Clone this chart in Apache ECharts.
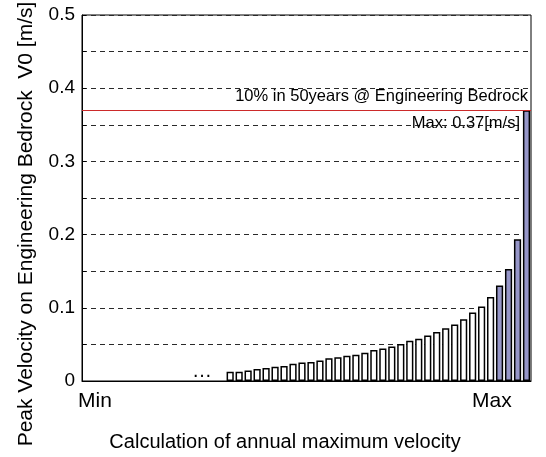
<!DOCTYPE html>
<html>
<head>
<meta charset="utf-8">
<script src="https://cdn.jsdelivr.net/npm/echarts@6/dist/echarts.min.js"></script>
<style>html,body{margin:0;padding:0;background:#fff;}#c{width:546px;height:457px;}</style>
</head>
<body>
<div id="c"></div>
<script>
// categories: calculation index (sorted from Min to Max)
const categories = Array.from({length: 50}, (_, i) => String(i + 1));
// annual maximum velocities (first 16 calculations not drawn, shown as "...")
const hiddenCount = 16;
const whiteValues = [0.0128, 0.0128, 0.0142, 0.0165, 0.0179, 0.0193, 0.0206, 0.0234, 0.0252, 0.0261,
                     0.0280, 0.0312, 0.0326, 0.0344, 0.0358, 0.0385, 0.0422, 0.0445, 0.0473, 0.0505,
                     0.0551, 0.0578, 0.0620, 0.0670, 0.0721, 0.0771, 0.0845, 0.0936, 0.1019, 0.1147];
const purpleValues = [0.1305, 0.1530, 0.1935, 0.37];
const maxLevel = 0.37;
const yTicks = [0, 0.1, 0.2, 0.3, 0.4, 0.5];
const xTickLabels = ['Min', 'Max'];
const lineLabelTop = '10% in 50years @ Engineering Bedrock';
const lineLabelBottom = 'Max: 0.37[m/s]';
const xTitle = 'Calculation of annual maximum velocity';
const yTitle = 'Peak Velocity on Engineering Bedrock  V0 [m/s]';

const FONT = '"Liberation Sans", Arial, sans-serif';
const data = [];
for (let i = 0; i < hiddenCount; i++) data.push(null);
whiteValues.forEach(v => data.push({value: v, itemStyle: {color: '#ffffff'}}));
purpleValues.forEach(v => data.push({value: v, itemStyle: {color: '#9696c8'}}));

const chart = echarts.init(document.getElementById('c'), null, {renderer: 'canvas'});
chart.setOption({
  animation: false,
  backgroundColor: '#fff',
  grid: {left: 82, right: 15, top: 15, bottom: 76, show: true, borderColor: '#000', borderWidth: 1, backgroundColor: 'transparent'},
  xAxis: {
    type: 'category', data: categories, boundaryGap: true,
    axisLine: {lineStyle: {color: '#000', width: 1}},
    axisTick: {show: false}, axisLabel: {show: false}, splitLine: {show: false}
  },
  yAxis: {
    type: 'value', min: 0, max: 0.5, interval: 0.05,
    axisLine: {show: true, lineStyle: {color: '#000', width: 1}},
    axisTick: {show: true, inside: true, length: 4, lineStyle: {color: '#000'}},
    axisLabel: {
      fontFamily: FONT, fontSize: 19, color: '#000', margin: 7,
      formatter: v => {
        const t = yTicks.find(k => Math.abs(k - v) < 1e-6);
        if (t === undefined) return '';
        return t === 0 ? '0' : t.toFixed(1);
      }
    },
    splitLine: {show: true, lineStyle: {color: '#2a2a2a', type: [5, 4], width: 1}}
  },
  series: [{
    type: 'bar', data: data, barCategoryGap: '20%',
    itemStyle: {borderColor: '#000', borderWidth: 1.5},
    markLine: {
      symbol: 'none', silent: true,
      lineStyle: {color: '#cc2a2a', width: 1, type: 'solid'},
      data: [
        {yAxis: maxLevel, label: {show: true, position: 'insideEndTop', formatter: lineLabelTop, distance: [3, 5], fontFamily: FONT, fontSize: 16.5, color: '#000'}},
        {yAxis: maxLevel, lineStyle: {color: 'rgba(0,0,0,0)'}, label: {show: true, position: 'insideEndBottom', formatter: lineLabelBottom, distance: [11, 5], fontFamily: FONT, fontSize: 16.5, color: '#000'}}
      ]
    }
  }],
  graphic: [
    {type: 'text', left: 78, top: 391, style: {text: xTickLabels[0], font: '21px ' + FONT, fill: '#000'}},
    {type: 'text', left: 472, top: 391, style: {text: xTickLabels[1], font: '21px ' + FONT, fill: '#000'}},
    {type: 'text', left: 192, top: 361, style: {text: '\u2026', font: '20px ' + FONT, fill: '#000'}},
    {type: 'text', x: 285, y: 442, style: {text: xTitle, font: '20px ' + FONT, fill: '#000', align: 'center', verticalAlign: 'middle'}},
    {type: 'text', x: 26, y: 224, rotation: Math.PI / 2, style: {text: yTitle, font: '21px ' + FONT, fill: '#000', align: 'center', verticalAlign: 'middle'}}
  ]
});
</script>
</body>
</html>
